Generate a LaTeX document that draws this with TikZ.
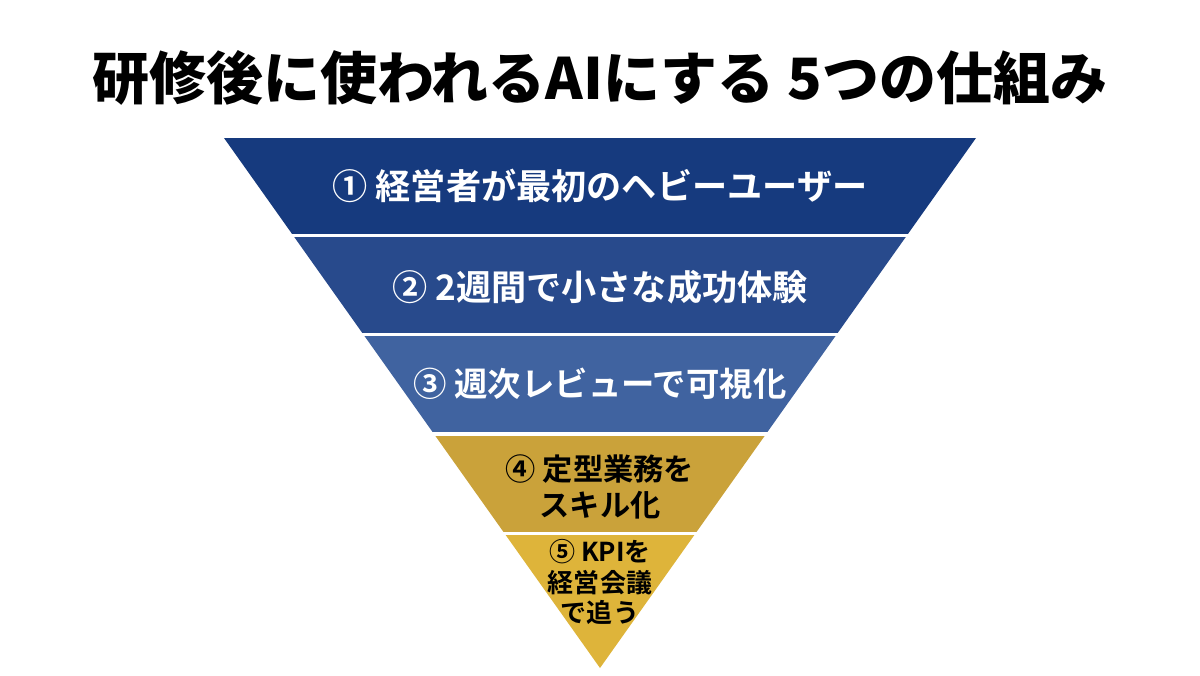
\documentclass[tikz,border=0pt]{standalone}
\usepackage{fontspec}
\newfontfamily\jpbold{Noto Sans CJK JP Bold}
\newfontfamily\jpblack{Noto Sans CJK JP Black}
\definecolor{navyA}{RGB}{22,58,126}
\definecolor{navyB}{RGB}{40,74,140}
\definecolor{navyC}{RGB}{64,99,160}
\definecolor{goldA}{RGB}{202,162,58}
\definecolor{goldB}{RGB}{222,180,58}
\begin{document}
\begin{tikzpicture}[x=0.01cm,y=-0.01cm,
    lighttext/.style={text=white, font=\jpbold\fontsize{10pt}{12pt}\selectfont},
    darktext/.style={text=black, align=center},
  ]
   \useasboundingbox (0,0) rectangle (1200,675);
   %titolo
   \node (title) at (600,78) {\jpblack\fontsize{16.2pt}{18pt}\selectfont 研修後に使われるAIにする 5つの仕組み};
   %triangolo
   \coordinate (topL) at (224,138);
   \coordinate (topR) at (976,138);
   \coordinate (apex) at (600,668);
   \begin{scope}
      \clip (topL) -- (topR) -- (apex) -- cycle;
      \fill[navyA] (200,130) rectangle (1000,234);
      \fill[navyB] (200,237) rectangle (1000,333);
      \fill[navyC] (200,336) rectangle (1000,432);
      \fill[goldA] (200,436) rectangle (1000,532);
      \fill[goldB] (200,535) rectangle (1000,680);
   \end{scope}
   %testi
   \node[lighttext] (lvl1) at (600,186) {① 経営者が最初のヘビーユーザー};
   \node[lighttext] (lvl2) at (600,287) {② 2週間で小さな成功体験};
   \node[lighttext, font=\jpbold\fontsize{9.5pt}{11pt}\selectfont] (lvl3) at (600,384) {③ 週次レビューで可視化};
   \node[darktext, font=\jpbold\fontsize{8.6pt}{10pt}\selectfont] (lvl4) at (600,487) {④ 定型業務を\\スキル化};
   \node[darktext, font=\jpbold\fontsize{7.4pt}{8.6pt}\selectfont] (lvl5) at (600,582) {⑤ KPIを\\経営会議\\で追う};
\end{tikzpicture}
\end{document}
